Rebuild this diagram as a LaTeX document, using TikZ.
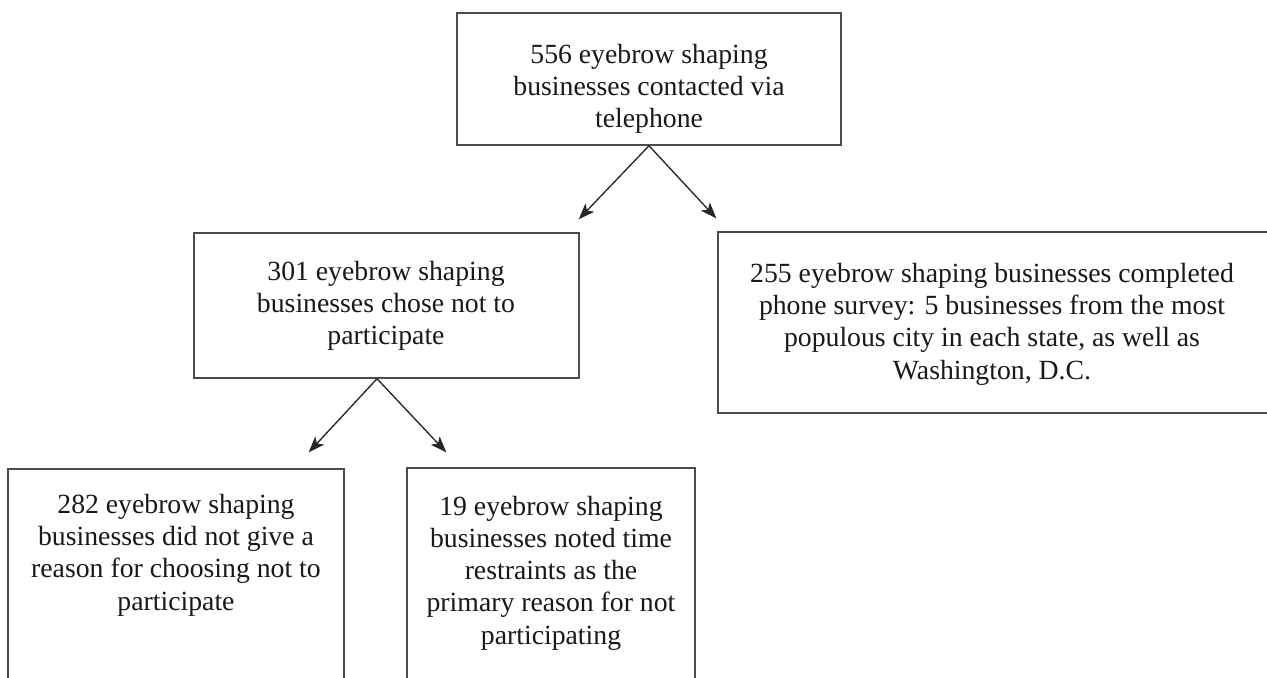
\documentclass[tikz,border=0pt]{standalone}
\usepackage{fontspec}
\setmainfont{Liberation Serif}
\usetikzlibrary{arrows.meta,calc,shadows}
\begin{document}
\begin{tikzpicture}[x=0.75pt,y=-0.75pt,
  box/.style={draw=black!70, line width=1.1pt, fill=white, inner sep=0pt,
    drop shadow={shadow xshift=0.6pt, shadow yshift=-1pt, opacity=1, fill=black}},
  txt/.style={align=center, inner sep=0pt, text=black!90, font=\fontsize{20.8}{24.2}\selectfont},
  arr/.style={-{Stealth[length=12pt,width=9pt,inset=3pt]}, line width=1pt, draw=black!85}]
\useasboundingbox (0,0) rectangle (1267,678);
\clip (0,0) rectangle (1267,678);
\fill[white] (0,0) rectangle (1267,678);
% boxes
\node[box, minimum width=288pt, minimum height=99pt] (top) at (649,79) {};
\node[box, minimum width=288.75pt, minimum height=108.75pt] (mid) at (386.5,305.5) {};
\node[box, minimum width=415.5pt, minimum height=135.75pt] (right) at (995,322.5) {};
\node[box, minimum width=252pt, minimum height=173.25pt] (bl) at (176,584.5) {};
\node[box, minimum width=216pt, minimum height=174pt] (bm) at (551,584) {};
% texts
\node[txt] (t1) at (649,89) {556 eyebrow shaping\\businesses contacted via\\telephone};
\node[txt] (t2) at (386,306) {301 eyebrow shaping\\businesses chose not to\\participate};
\node[txt] (t3) at (992,324) {255 eyebrow shaping businesses completed\\phone survey: 5 businesses from the most\\populous city in each state, as well as\\Washington, D.C.};
\node[txt] (t4) at (176,555) {282 eyebrow shaping\\businesses did not give a\\reason for choosing not to\\participate};
\node[txt] (t5) at (551,573) {19 eyebrow shaping\\businesses noted time\\restraints as the\\primary reason for not\\participating};
% connector ends
\coordinate (a1) at ($(mid.north east)+(-1,-13)$);
\coordinate (a2) at ($(right.north west)+(-1,-13)$);
\coordinate (m0) at ($(mid.south)+(-9.5,0)$);
\coordinate (a3) at ($(bl.north east)+(-36,-16)$);
\coordinate (a4) at ($(bm.north west)+(40,-15)$);
% arrows
\draw[arr] (top.south) -- (a1);
\draw[arr] (top.south) -- (a2);
\draw[arr] (m0) -- (a3);
\draw[arr] (m0) -- (a4);
\end{tikzpicture}
\end{document}
